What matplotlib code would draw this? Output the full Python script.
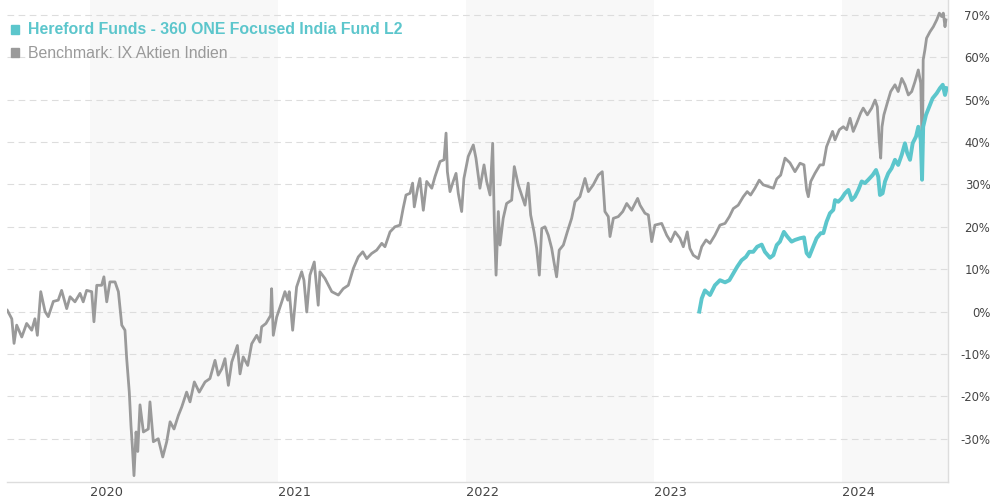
import matplotlib
matplotlib.use("Agg")
import matplotlib.pyplot as plt
from matplotlib.patches import Rectangle

# Benchmark: IX Aktien Indien (decimal year, performance in %)
bench_t = [
    2019.560, 2019.584, 2019.596, 2019.610, 2019.637, 2019.663, 2019.690, 2019.707,
    2019.720, 2019.738, 2019.761, 2019.778, 2019.805, 2019.831, 2019.849, 2019.876,
    2019.894, 2019.920, 2019.947, 2019.964, 2019.982, 2020.009, 2020.021, 2020.036,
    2020.062, 2020.074, 2020.089, 2020.106, 2020.133, 2020.151, 2020.169, 2020.186,
    2020.195, 2020.209, 2020.218, 2020.225, 2020.234, 2020.245, 2020.254, 2020.266,
    2020.284, 2020.310, 2020.319, 2020.337, 2020.363, 2020.387, 2020.408, 2020.426,
    2020.447, 2020.470, 2020.488, 2020.514, 2020.532, 2020.555, 2020.581, 2020.612,
    2020.638, 2020.665, 2020.682, 2020.701, 2020.718, 2020.736, 2020.754, 2020.784,
    2020.798, 2020.815, 2020.839, 2020.860, 2020.887, 2020.904, 2020.913, 2020.936,
    2020.961, 2020.966, 2020.975, 2020.993, 2021.020, 2021.037, 2021.052, 2021.060,
    2021.078, 2021.099, 2021.126, 2021.138, 2021.153, 2021.170, 2021.193, 2021.214,
    2021.223, 2021.250, 2021.286, 2021.321, 2021.347, 2021.374, 2021.401, 2021.427,
    2021.451, 2021.472, 2021.498, 2021.525, 2021.552, 2021.569, 2021.596, 2021.622,
    2021.649, 2021.666, 2021.681, 2021.702, 2021.716, 2021.725, 2021.743, 2021.755,
    2021.773, 2021.791, 2021.818, 2021.835, 2021.862, 2021.883, 2021.894, 2021.901,
    2021.915, 2021.932, 2021.947, 2021.959, 2021.977, 2021.989, 2022.012, 2022.039,
    2022.053, 2022.074, 2022.096, 2022.110, 2022.128, 2022.142, 2022.151, 2022.160,
    2022.172, 2022.181, 2022.198, 2022.216, 2022.243, 2022.257, 2022.278, 2022.296,
    2022.314, 2022.331, 2022.344, 2022.362, 2022.376, 2022.390, 2022.403, 2022.420,
    2022.438, 2022.456, 2022.468, 2022.482, 2022.496, 2022.518, 2022.539, 2022.562,
    2022.580, 2022.606, 2022.633, 2022.651, 2022.677, 2022.704, 2022.725, 2022.739,
    2022.757, 2022.766, 2022.784, 2022.810, 2022.834, 2022.855, 2022.881, 2022.913,
    2022.926, 2022.952, 2022.970, 2022.988, 2023.005, 2023.041, 2023.068, 2023.089,
    2023.112, 2023.138, 2023.156, 2023.177, 2023.191, 2023.209, 2023.236, 2023.254,
    2023.277, 2023.298, 2023.324, 2023.351, 2023.378, 2023.401, 2023.422, 2023.448,
    2023.475, 2023.496, 2023.514, 2023.537, 2023.560, 2023.581, 2023.608, 2023.635,
    2023.653, 2023.674, 2023.697, 2023.723, 2023.750, 2023.777, 2023.798, 2023.812,
    2023.821, 2023.834, 2023.856, 2023.883, 2023.901, 2023.918, 2023.932, 2023.950,
    2023.963, 2023.986, 2024.007, 2024.025, 2024.043, 2024.060, 2024.078, 2024.099,
    2024.113, 2024.135, 2024.158, 2024.176, 2024.188, 2024.198, 2024.206, 2024.213,
    2024.223, 2024.241, 2024.259, 2024.282, 2024.299, 2024.318, 2024.335, 2024.353,
    2024.371, 2024.388, 2024.406, 2024.419, 2024.428, 2024.432, 2024.441, 2024.450,
    2024.468, 2024.486, 2024.504, 2024.518, 2024.530, 2024.539, 2024.548, 2024.553,
]
bench_v = [
    0.3, -1.7, -7.5, -3.2, -6.0, -2.8, -4.4, -1.7,
    -5.6, 4.7, 0.0, -1.2, 2.4, 2.7, 5.0, 0.7,
    3.5, 2.3, 4.3, 2.3, 5.0, 4.7, -2.4, 6.2,
    6.2, 8.2, 2.3, 7.0, 7.0, 4.7, -3.2, -4.4,
    -11.0, -19.0, -26.9, -31.6, -38.7, -28.4, -33.0, -22.0,
    -28.4, -27.7, -21.3, -30.7, -30.0, -34.3, -30.7, -26.0,
    -27.7, -24.5, -22.5, -19.0, -21.3, -16.6, -19.0, -16.6,
    -15.8, -11.5, -15.0, -13.5, -11.1, -17.4, -11.9, -8.0,
    -14.7, -10.7, -12.7, -7.6, -5.6, -7.2, -3.6, -2.8,
    -0.9, 5.4, -5.6, -1.3, 2.3, 4.7, 2.7, 4.7,
    -4.4, 5.8, 9.4, 7.4, -0.1, 8.6, 11.7, 1.5,
    9.4, 7.8, 4.7, 3.9, 5.4, 6.2, 10.2, 12.9,
    14.1, 12.5, 13.7, 14.5, 16.1, 15.3, 18.8, 20.0,
    20.4, 24.4, 27.5, 27.9, 30.3, 24.7, 29.1, 31.4,
    23.9, 30.7, 29.1, 31.8, 35.4, 35.8, 42.1, 33.0,
    28.3, 30.7, 32.6, 27.9, 23.6, 31.4, 36.6, 39.3,
    36.2, 29.1, 34.6, 30.7, 27.5, 39.7, 20.4, 8.6,
    23.6, 15.7, 22.0, 25.5, 26.3, 34.2, 29.9, 27.5,
    25.1, 30.3, 22.8, 18.8, 14.9, 8.6, 19.6, 20.0,
    18.0, 14.9, 11.7, 8.2, 14.5, 15.7, 18.8, 22.0,
    25.9, 27.1, 31.4, 28.3, 29.9, 32.2, 33.0, 23.6,
    22.4, 17.7, 22.0, 22.4, 23.6, 25.5, 23.9, 26.7,
    25.1, 23.2, 22.8, 16.5, 20.4, 20.8, 18.0, 16.5,
    18.8, 17.3, 15.3, 18.8, 14.9, 13.3, 12.5, 15.3,
    16.9, 16.1, 18.0, 20.4, 20.8, 22.4, 24.3, 25.1,
    27.1, 28.3, 27.5, 29.1, 31.0, 29.9, 29.5, 29.1,
    31.3, 32.2, 36.2, 35.1, 33.0, 35.0, 34.6, 28.7,
    27.1, 30.7, 32.6, 34.6, 34.6, 38.9, 40.5, 42.5,
    40.5, 42.9, 43.6, 42.9, 45.6, 42.5, 44.4, 46.8,
    48.0, 46.4, 48.0, 49.9, 48.3, 40.5, 36.2, 43.6,
    46.4, 49.2, 51.9, 53.5, 51.9, 55.0, 53.5, 51.1,
    51.9, 54.2, 57.0, 53.9, 36.0, 59.4, 61.7, 64.5,
    66.0, 67.2, 68.8, 70.4, 69.6, 70.4, 67.2, 68.8,
]

# Hereford Funds - 360 ONE Focused India Fund L2
fund_t = [
    2023.241, 2023.254, 2023.271, 2023.298, 2023.324, 2023.351, 2023.378, 2023.401,
    2023.422, 2023.443, 2023.466, 2023.489, 2023.507, 2023.528, 2023.549, 2023.573,
    2023.590, 2023.617, 2023.635, 2023.653, 2023.670, 2023.691, 2023.709, 2023.732,
    2023.750, 2023.777, 2023.798, 2023.812, 2023.826, 2023.844, 2023.865, 2023.887,
    2023.901, 2023.918, 2023.936, 2023.954, 2023.963, 2023.980, 2023.998, 2024.016,
    2024.034, 2024.052, 2024.069, 2024.087, 2024.105, 2024.122, 2024.140, 2024.163,
    2024.181, 2024.193, 2024.202, 2024.216, 2024.229, 2024.246, 2024.264, 2024.282,
    2024.299, 2024.318, 2024.335, 2024.347, 2024.362, 2024.376, 2024.394, 2024.406,
    2024.419, 2024.426, 2024.432, 2024.447, 2024.464, 2024.482, 2024.504, 2024.521,
    2024.536, 2024.548, 2024.557,
]
fund_v = [
    0.0, 3.1, 5.0, 3.9, 6.2, 7.4, 6.9, 7.4,
    9.0, 10.6, 12.1, 12.9, 14.1, 14.1, 15.3, 15.8,
    14.1, 12.7, 13.3, 15.7, 16.5, 18.8, 17.7, 16.5,
    16.9, 17.3, 17.5, 13.8, 13.0, 15.0, 17.3, 18.5,
    18.5, 21.2, 23.2, 24.0, 26.3, 25.9, 26.7, 27.9,
    28.7, 26.3, 27.1, 28.7, 30.7, 30.3, 31.1, 32.2,
    33.4, 31.8, 27.5, 27.9, 30.7, 32.6, 33.8, 35.8,
    34.6, 37.0, 39.7, 37.4, 35.8, 39.7, 41.3, 43.6,
    40.5, 31.1, 43.6, 46.4, 48.3, 50.3, 51.5, 52.7,
    53.5, 51.1, 52.7,
]

years = [2020, 2021, 2022, 2023, 2024]
y_ticks = [-30, -20, -10, 0, 10, 20, 30, 40, 50, 60, 70]

fund_name = "Hereford Funds - 360 ONE Focused India Fund L2"
bench_name = "Benchmark: IX Aktien Indien"

teal = "#5cc6cc"
grey = "#9a9a9a"

fig = plt.figure(figsize=(9.9, 5.0), dpi=100)
ax = fig.add_axes([7 / 990, 18 / 500, 941 / 990, 482 / 500])

x0, x1 = 2019.5585, 2024.564
ax.set_xlim(x0, x1)
ax.set_ylim(-40.2, 73.5)

# shaded alternate years
for yr in [2020, 2022, 2024]:
    ax.axvspan(yr, min(yr + 1, x1), color="#f8f8f8", zorder=0, lw=0)

for v in y_ticks:
    ax.axhline(v, color="#dddddd", lw=0.8, ls=(0, (6, 4)), zorder=1)

ax.plot(bench_t, bench_v, color=grey, lw=2.0, zorder=3)
ax.plot(fund_t, fund_v, color=teal, lw=2.8, zorder=4)

for s in ["top", "left"]:
    ax.spines[s].set_visible(False)
for s in ["right", "bottom"]:
    ax.spines[s].set_color("#dddddd")
    ax.spines[s].set_linewidth(1.0)

ax.yaxis.tick_right()
ax.set_yticks(y_ticks)
ax.set_yticklabels([f"{v}%" for v in y_ticks])
ax.tick_params(axis="y", length=0, pad=30.5, labelsize=8.4, labelcolor="#444444")
for lbl in ax.get_yticklabels():
    lbl.set_horizontalalignment("right")

ax.set_xticks(years)
ax.set_xticklabels([str(y) for y in years])
ax.tick_params(axis="x", length=0, pad=3, labelsize=9.3, labelcolor="#444444")
for lbl in ax.get_xticklabels():
    lbl.set_horizontalalignment("left")

# legend at top left
fig.patches.append(Rectangle((11 / 990, 1 - 34 / 500), 8 / 990, 9 / 500,
                             transform=fig.transFigure, color=teal, zorder=5))
fig.patches.append(Rectangle((11 / 990, 1 - 57 / 500), 8 / 990, 9 / 500,
                             transform=fig.transFigure, color=grey, zorder=5))
fig.text(28 / 990, 1 - 30 / 500, fund_name, color=teal, fontsize=11.4,
         fontweight="bold", family="Liberation Sans", va="center", ha="left")
fig.text(28 / 990, 1 - 53 / 500, bench_name, color=grey, fontsize=11.4,
         family="Liberation Sans", va="center", ha="left")

fig.savefig("out.png", dpi=100)
